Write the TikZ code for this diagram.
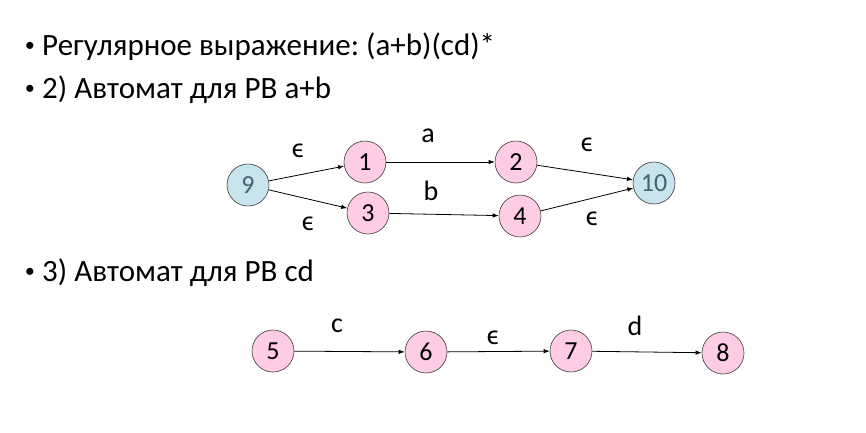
\documentclass[tikz,border=0pt]{standalone}
\usepackage{fontspec}
\setmainfont{Carlito}
\newfontfamily\bulletfont{Liberation Sans}
\usetikzlibrary{arrows.meta}
\definecolor{pinkfill}{RGB}{255,204,230}
\definecolor{bluefill}{RGB}{200,228,236}
\definecolor{bluetext}{RGB}{70,100,112}
\definecolor{rim}{RGB}{60,60,60}
\tikzset{
  st/.style={circle, draw=rim, line width=0.6pt, minimum size=42pt, inner sep=0pt, font=\fontsize{26}{26}\selectfont},
  pk/.style={st, fill=pinkfill},
  bl/.style={st, fill=bluefill, text=bluetext},
  edge/.style={-{Latex[length=6pt,width=4.5pt]}, line width=0.8pt},
  lab/.style={font=\fontsize{28}{28}\selectfont, inner sep=0pt},
  line/.style={anchor=base west, inner sep=0pt, font=\fontsize{31}{31}\selectfont},
  bul/.style={anchor=base, inner sep=0pt, font=\bulletfont\fontsize{26}{26}\selectfont}
}
\frenchspacing
\begin{document}
\begin{tikzpicture}[x=1pt,y=-1pt]
\useasboundingbox (0,0) rectangle (866,432);
% text lines
\node[bul] (b1) at (30,54) {•};
\node[line] (t1) at (42,55) {Регулярное выражение: (a+b)(cd)*};
\node[bul] (b2) at (30,97) {•};
\node[line] (t2) at (42,98) {2) Автомат для РВ a+b};
\node[bul] (b3) at (30,280) {•};
\node[line] (t3) at (42,281) {3) Автомат для РВ cd};
% row 1
\node[bl] (n9) at (248,185) {9};
\node[pk] (n1) at (365,162) {1};
\node[pk] (n3) at (368,213) {3};
\node[pk] (n2) at (516,162) {2};
\node[pk] (n4) at (520,216) {4};
\node[bl] (n10) at (654,183) {10};
\draw[edge] (n9) -- (n1);
\draw[edge] (n9) -- (n3);
\draw[edge] (n1) -- (n2);
\draw[edge] (n3) -- (n4);
\draw[edge] (n2) -- (n10);
\draw[edge] (n4) -- (n10);
\node[lab] (e1) at (298,151) {ϵ};
\node[lab] (e2) at (308,224) {ϵ};
\node[lab] (la) at (428,136) {a};
\node[lab] (lb) at (431,191) {b};
\node[lab] (e3) at (587,145) {ϵ};
\node[lab] (e4) at (592,219) {ϵ};
% row 2
\node[pk] (n5) at (273,351) {5};
\node[pk] (n6) at (426,352) {6};
\node[pk] (n7) at (571,351) {7};
\node[pk] (n8) at (723,353) {8};
\draw[edge] (n5) -- (n6);
\draw[edge] (n6) -- (n7);
\draw[edge] (n7) -- (n8);
\node[lab] (lc) at (337,326) {c};
\node[lab] (e5) at (493,338) {ϵ};
\node[lab] (ld) at (635,326) {d};
\end{tikzpicture}
\end{document}
